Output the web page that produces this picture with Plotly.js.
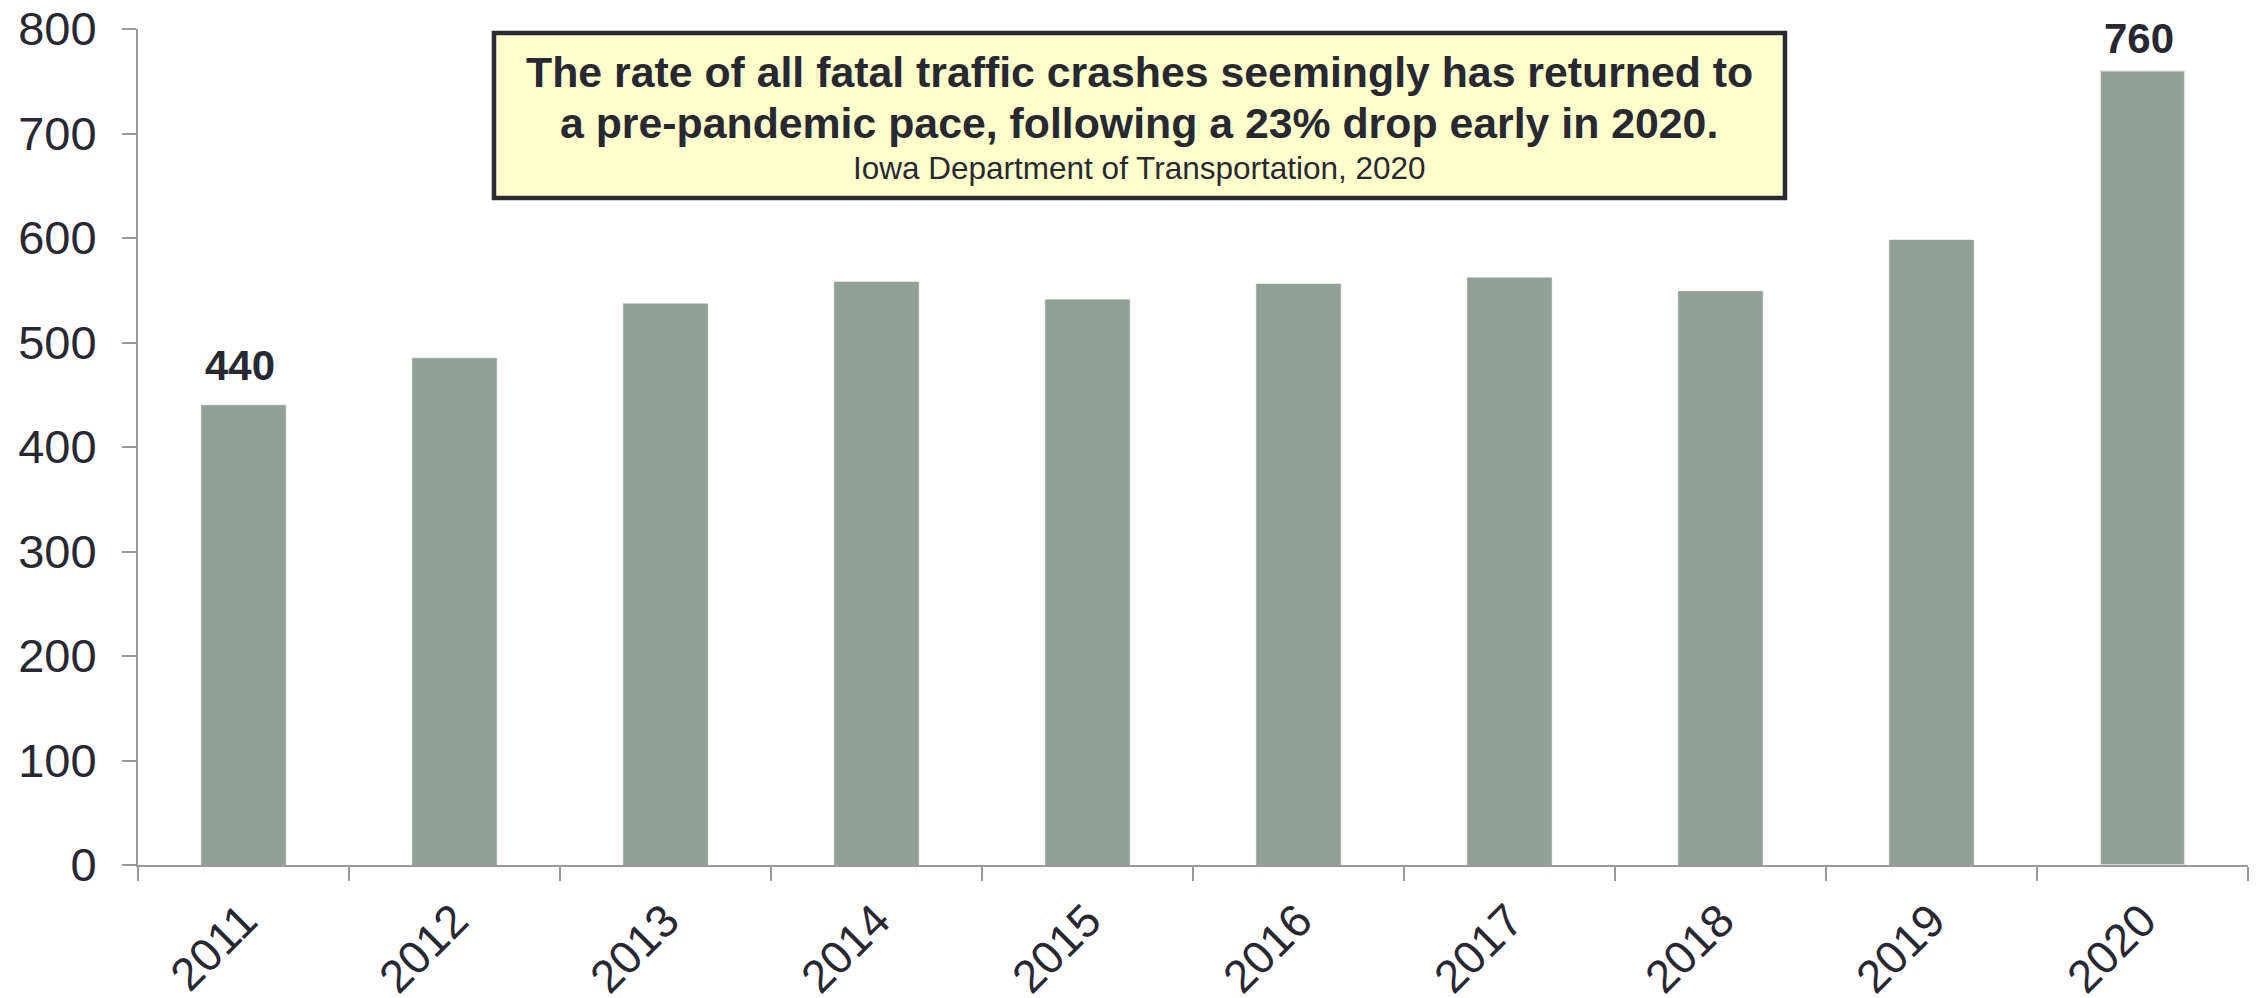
<!DOCTYPE html>
<html>
<head>
<meta charset="utf-8">
<script src="https://cdn.plot.ly/plotly-3.0.1.min.js"></script>
<style>
html,body{margin:0;padding:0;background:#fff;}
#chart{width:2257px;height:998px;}
</style>
</head>
<body>
<div id="chart"></div>
<script>
var years = ["2011","2012","2013","2014","2015","2016","2017","2018","2019","2020"];
var crashes = [440, 485, 537, 558, 541, 556, 562, 549, 598, 760];
var labeledYears = ["2011","2020"];
var yTicks = [0,100,200,300,400,500,600,700,800];
var boxLine1 = "The rate of all fatal traffic crashes seemingly has returned to";
var boxLine2 = "a pre-pandemic pace, following a 23% drop early in 2020.";
var boxSource = "Iowa Department of Transportation, 2020";

var barColor = "#92a197";
var textColor = "#282833";
var axisColor = "#9a9a9a";
var fontFam = "Liberation Sans, Arial, sans-serif";

// plot area geometry (pixels) used only to place the text box in paper coords
var L = 138, R = 2248, T = 29, B = 865;
function px(x){ return (x - L) / (R - L); }
function py(y){ return (B - y) / (B - T); }

var lineColors = years.map(function(y){ return y === "2020" ? "#e6e8e6" : barColor; });
var lineWidths = years.map(function(y){ return y === "2020" ? 1.5 : 0.5; });

var traces = [{
  type: "bar",
  x: years,
  y: crashes,
  marker: {color: barColor, line: {color: lineColors, width: lineWidths}},
  hoverinfo: "x+y"
}];

var labelShift = {"2011": 14, "2020": 7};
var annotations = [];
years.forEach(function(y, i){
  if (labeledYears.indexOf(y) >= 0) {
    annotations.push({
      x: i, y: crashes[i], xref: "x", yref: "y",
      text: String(crashes[i]),
      showarrow: false, xanchor: "center", yanchor: "bottom",
      yshift: labelShift[y], xshift: -4,
      font: {family: fontFam, size: 42, color: textColor, weight: "bold"}
    });
  }
});

var boxAnn = [
  {text: boxLine1, yc: 72, size: 42.8, bold: true},
  {text: boxLine2, yc: 123, size: 42.8, bold: true},
  {text: boxSource, yc: 168, size: 31.5, bold: false}
];
boxAnn.forEach(function(b){
  annotations.push({
    xref: "paper", yref: "paper",
    x: px(1139), y: py(b.yc),
    xanchor: "center", yanchor: "middle",
    text: b.text, showarrow: false,
    font: {family: fontFam, size: b.size, color: textColor, weight: b.bold ? "bold" : "normal"}
  });
});

var layout = {
  width: 2257, height: 998,
  margin: {l: L, r: 2257 - R, t: T, b: 998 - B},
  paper_bgcolor: "#ffffff",
  plot_bgcolor: "#ffffff",
  bargap: 0.6,
  showlegend: false,
  font: {family: fontFam, color: textColor},
  xaxis: {
    type: "category",
    categoryorder: "array",
    categoryarray: years,
    range: [-0.5, years.length - 0.5],
    tickangle: -45,
    tickson: "boundaries",
    ticks: "outside",
    ticklen: 14,
    tickwidth: 2,
    tickcolor: axisColor,
    showline: true,
    linecolor: axisColor,
    linewidth: 2,
    showgrid: false,
    zeroline: false,
    ticklabelstandoff: 8,
    tickfont: {size: 46, color: textColor}
  },
  yaxis: {
    range: [0, 800],
    tickvals: yTicks,
    ticks: "outside",
    ticklen: 14,
    tickwidth: 2,
    tickcolor: axisColor,
    showline: true,
    linecolor: axisColor,
    linewidth: 2,
    showgrid: false,
    zeroline: false,
    tickfont: {size: 47, color: textColor},
    ticklabelstandoff: 16
  },
  shapes: [{
    type: "rect", xref: "paper", yref: "paper",
    x0: px(494), x1: px(1785),
    y0: py(198), y1: py(33),
    fillcolor: "#ffffcc",
    line: {color: "#2a2a33", width: 4.5},
    layer: "above"
  }],
  annotations: annotations
};

Plotly.newPlot("chart", traces, layout, {displayModeBar: false, staticPlot: true});
</script>
</body>
</html>
